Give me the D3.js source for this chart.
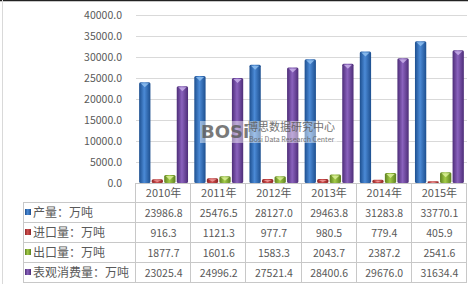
<!DOCTYPE html>
<html>
<head>
<meta charset="utf-8">
<script src="https://cdn.jsdelivr.net/npm/d3@7"></script>
<style>
  body { margin: 0; background: #fff; }
  svg text { font-family: "Noto Sans CJK SC", "Noto Sans", sans-serif; fill: #595959; }
</style>
</head>
<body>
<svg id="chart" width="468" height="284"></svg>
<script>
// chart data
var years = ["2010年", "2011年", "2012年", "2013年", "2014年", "2015年"];
var seriesNames = ["产量：万吨", "进口量：万吨", "出口量：万吨", "表观消费量：万吨"];
var production = [23986.8, 25476.5, 28127.0, 29463.8, 31283.8, 33770.1];
var imports = [916.3, 1121.3, 977.7, 980.5, 779.4, 405.9];
var exports = [1877.7, 1601.6, 1583.3, 2043.7, 2387.2, 2541.6];
var consumption = [23025.4, 24996.2, 27521.4, 28400.6, 29676.0, 31634.4];
var yTicks = [0, 5000, 10000, 15000, 20000, 25000, 30000, 35000, 40000];

var allSeries = [production, imports, exports, consumption];
var colors = [
  {edge: "#1d4f8f", mid: "#4b8ad6", top: "#8fc0f0"},
  {edge: "#8e2626", mid: "#d25050", top: "#f0a0a0"},
  {edge: "#5d8020", mid: "#a3cc48", top: "#dcf09a"},
  {edge: "#4d2d78", mid: "#8a62bd", top: "#c9b0ea"}
];

var plotLeft = 136, plotRight = 467, plotTop = 15, plotBottom = 183;
var rowH = 20, labelLeft = 23;

const svg = d3.select("#chart");

// gradients for the bevelled bars
var defs = svg.append("defs");
colors.forEach((c, i) => {
  var g = defs.append("linearGradient").attr("id", `grad${i}`)
    .attr("x1", "0%").attr("x2", "100%").attr("y1", "0%").attr("y2", "0%");
  g.append("stop").attr("offset", "0%").attr("stop-color", c.edge);
  g.append("stop").attr("offset", "45%").attr("stop-color", c.mid);
  g.append("stop").attr("offset", "100%").attr("stop-color", c.edge);
});

// frame
svg.append("line").attr("x1", 0).attr("x2", 468).attr("y1", 0.5).attr("y2", 0.5)
  .attr("stroke", "#222").attr("stroke-width", 1.5);
svg.append("line").attr("x1", 2.5).attr("x2", 2.5).attr("y1", 0).attr("y2", 284)
  .attr("stroke", "#d9d9d9");

const x = d3.scaleBand().domain(years).range([plotLeft, plotRight]);
const xs = d3.scaleBand().domain(d3.range(4)).range([0, x.bandwidth()])
  .paddingInner(0.1).paddingOuter(0.25);
const y = d3.scaleLinear().domain([0, 40000]).range([plotBottom, plotTop]);

// gridlines
svg.append("g").selectAll("line").data(yTicks.slice(1)).enter().append("line")
  .attr("x1", plotLeft).attr("x2", plotRight)
  .attr("y1", d => Math.round(y(d)) + 0.5).attr("y2", d => Math.round(y(d)) + 0.5)
  .attr("stroke", "#d9d9d9");

// y axis labels
const yAxis = svg.append("g").attr("transform", `translate(${plotLeft},0)`)
  .call(d3.axisLeft(y).tickValues(yTicks).tickFormat(d3.format(".1f")).tickSize(0).tickPadding(14));
yAxis.select(".domain").remove();
yAxis.selectAll("text").style("font-size", "10.5px").attr("fill", "#595959");

// bars
allSeries.forEach((vals, si) => {
  var g = svg.append("g");
  g.selectAll("rect").data(vals).enter().append("rect")
    .attr("x", (d, i) => x(years[i]) + xs(si))
    .attr("width", xs.bandwidth())
    .attr("y", d => y(d))
    .attr("height", d => y(0) - y(d))
    .attr("rx", 1.5)
    .attr("fill", `url(#grad${si})`);
  // light bevel triangle at the top
  g.selectAll("path").data(vals).enter().append("path")
    .attr("d", (d, i) => {
      var x0 = x(years[i]) + xs(si), w = xs.bandwidth(), t = y(d);
      var h = Math.min(4, (y(0) - t) / 2);
      return `M${x0 + 1.5},${t + 1}L${x0 + w - 1.5},${t + 1}L${x0 + w / 2},${t + 1 + h}Z`;
    })
    .attr("fill", colors[si].top).attr("opacity", 0.85);
});

// watermark
var wm = svg.append("g");
wm.append("rect").attr("x", 200).attr("y", 121).attr("width", 137).attr("height", 22)
  .attr("fill", "#fff").attr("opacity", 0.45);
wm.append("text").attr("x", 201).attr("y", 138).text("BOSi")
  .style("font-family", "DejaVu Sans").style("font-weight", "bold").style("font-size", "18px")
  .attr("fill", "#7a7a7a").attr("opacity", 0.8);
wm.append("text").attr("x", 247).attr("y", 131).text("博思数据研究中心")
  .style("font-size", "11px").attr("fill", "#e09aa8").attr("opacity", 0.85);
wm.append("text").attr("x", 249).attr("y", 142).text("Bosi Data Research Center")
  .style("font-size", "7px").attr("fill", "#6a7080").attr("opacity", 0.8);

// data table
var table = svg.append("g");
var lineColor = "#c8c8c8";
// horizontal lines
d3.range(5).forEach(r => {
  var yy = plotBottom + rowH * (r + 1) - 0.5;
  table.append("line").attr("x1", labelLeft).attr("x2", plotRight)
    .attr("y1", yy).attr("y2", yy).attr("stroke", lineColor);
});
table.append("line").attr("x1", plotLeft).attr("x2", plotRight)
  .attr("y1", plotBottom + 0.5).attr("y2", plotBottom + 0.5).attr("stroke", lineColor);
// vertical lines
table.append("line").attr("x1", labelLeft + 0.5).attr("x2", labelLeft + 0.5)
  .attr("y1", plotBottom + rowH).attr("y2", plotBottom + rowH * 5).attr("stroke", lineColor);
years.concat(["end"]).forEach((yr, i) => {
  var xx = Math.round(plotLeft + x.step() * i) - 0.5;
  table.append("line").attr("x1", xx).attr("x2", xx)
    .attr("y1", plotBottom).attr("y2", plotBottom + rowH * 5).attr("stroke", lineColor);
});
// year headers
table.selectAll(".yr").data(years).enter().append("text")
  .attr("x", d => x(d) + x.bandwidth() / 2).attr("y", plotBottom + rowH / 2 + 4)
  .attr("text-anchor", "middle").style("font-size", "11px").text(d => d);
// row labels with legend keys
seriesNames.forEach((name, si) => {
  var cy = plotBottom + rowH * (si + 1) + rowH / 2;
  table.append("rect").attr("x", 25).attr("y", cy - 4).attr("width", 6).attr("height", 6)
    .attr("fill", `url(#grad${si})`);
  table.append("text").attr("x", 33).attr("y", cy + 4).style("font-size", "12px").text(name);
  table.selectAll(`.v${si}`).data(allSeries[si]).enter().append("text")
    .attr("x", (d, i) => x(years[i]) + x.bandwidth() / 2).attr("y", cy + 4)
    .attr("text-anchor", "middle").style("font-size", "10.5px")
    .text(d => d3.format(".1f")(d));
});
</script>
</body>
</html>
